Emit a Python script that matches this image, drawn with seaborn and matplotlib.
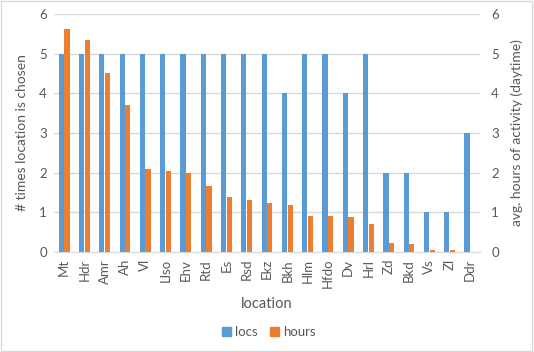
import pandas as pd
import matplotlib.pyplot as plt
import seaborn as sns
from matplotlib.patches import Rectangle

locations = ['Mt', 'Hdr', 'Amr', 'Ah', 'Vl', 'Llso', 'Ehv', 'Rtd', 'Es', 'Rsd', 'Ekz',
             'Bkh', 'Hlm', 'Hfdo', 'Dv', 'Hrl', 'Zd', 'Bkd', 'Vs', 'Zl', 'Ddr']
locs = [5, 5, 5, 5, 5, 5, 5, 5, 5, 5, 5, 4, 5, 5, 4, 5, 2, 2, 1, 1, 3]
hours = [5.63, 5.35, 4.52, 3.71, 2.09, 2.04, 1.99, 1.67, 1.39, 1.31, 1.24,
         1.19, 0.91, 0.91, 0.88, 0.71, 0.23, 0.2, 0.05, 0.05, 0.0]

df = pd.DataFrame({'location': locations, 'locs': locs, 'hours': hours})
df_long = df.melt(id_vars='location', var_name='series', value_name='value')

sns.set_style('white')
plt.rcParams['font.family'] = ['Lato', 'DejaVu Sans']
text_col = '#595959'
grid_col = '#D9D9D9'

fig = plt.figure(figsize=(5.34, 3.52), dpi=100)
ax = fig.add_axes([0.101, 0.284, 0.798, 0.676])

sns.barplot(data=df_long, x='location', y='value', hue='series', ax=ax,
            palette={'locs': '#5B9BD5', 'hours': '#ED7D31'}, saturation=1,
            width=0.56, gap=0.08, linewidth=0, legend=False)

ax.set_ylim(0, 6)
ax.set_xlim(-0.5, len(locations) - 0.5)
ax.set_yticks(range(0, 7))
ax.yaxis.grid(True, color=grid_col, linewidth=1)
ax.set_axisbelow(True)
for s in ['top', 'left', 'right']:
    ax.spines[s].set_visible(False)
ax.spines['bottom'].set_color(grid_col)
ax.tick_params(axis='both', length=0, labelsize=9.5, colors=text_col, pad=5)
ax.tick_params(axis='x', rotation=90)
ax.set_xlabel('location', fontsize=10.5, color=text_col, labelpad=6)
ax.set_ylabel('# times location is chosen', fontsize=10, color=text_col, labelpad=8)

ax2 = ax.twinx()
ax2.set_ylim(0, 6)
ax2.set_yticks(range(0, 7))
for s in ax2.spines.values():
    s.set_visible(False)
ax2.tick_params(axis='y', length=0, labelsize=9.5, colors=text_col, pad=8)
ax2.set_ylabel('avg. hours of activity (daytime)', fontsize=10, color=text_col, labelpad=8)

handles = [Rectangle((0, 0), 1, 1, color='#5B9BD5'), Rectangle((0, 0), 1, 1, color='#ED7D31')]
fig.legend(handles, ['locs', 'hours'], loc='center', bbox_to_anchor=(0.503, 0.057), ncol=2,
           frameon=False, fontsize=9.5, labelcolor=text_col, handlelength=0.7,
           handleheight=0.7, handletextpad=0.3, columnspacing=0.9)

fig.patches.append(Rectangle((0.002, 0.003), 0.995, 0.994, transform=fig.transFigure,
                             fill=False, edgecolor=grid_col, linewidth=1))

plt.savefig('out.png', dpi=100)
